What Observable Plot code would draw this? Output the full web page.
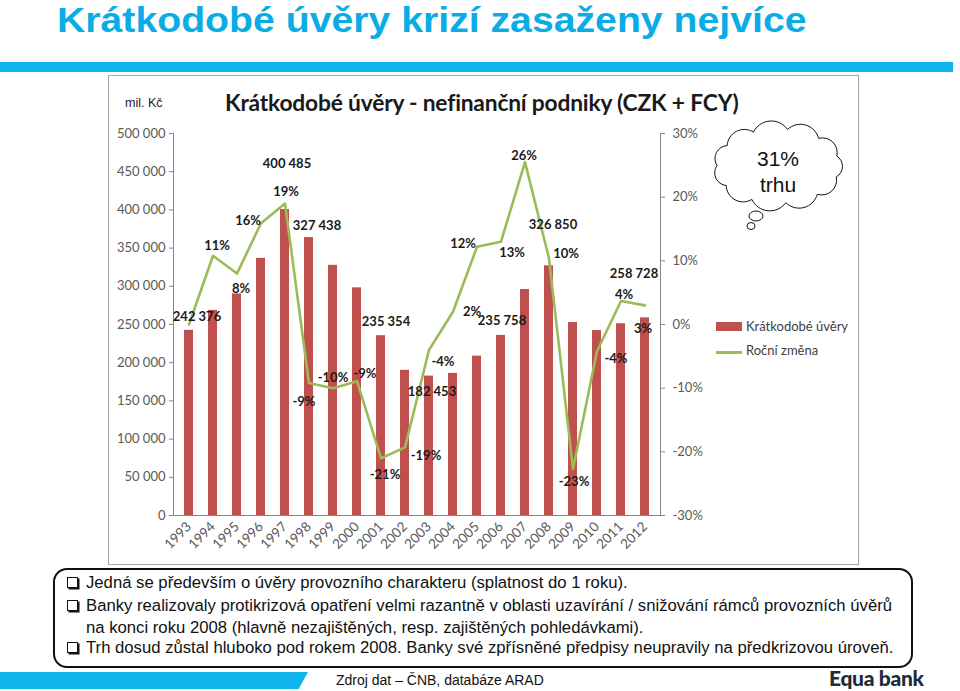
<!DOCTYPE html>
<html>
<head>
<meta charset="utf-8">
<script src="https://cdn.jsdelivr.net/npm/d3@7"></script>
<script src="https://cdn.jsdelivr.net/npm/@observablehq/plot@0.6"></script>
<style>
  html, body { margin: 0; padding: 0; background: #fff; }
  #page { position: relative; width: 960px; height: 691px; overflow: hidden; font-family: Arial, "Liberation Sans", sans-serif; }
  .abs { position: absolute; white-space: nowrap; }
  #title { left: 57px; top: 2px; font-size: 35px; line-height: 36px; font-weight: bold; color: #0AACE6; transform: scaleX(1.12); transform-origin: 0 0; }
  #band1 { left: 0; top: 62px; width: 953px; height: 10px; background: #10B4EC; }
  #band2 { left: 0; top: 672px; width: 308px; height: 17px; background: #10B4EC; clip-path: polygon(0 0, 100% 0, 97% 100%, 0 100%); }
  #chartbox { left: 108px; top: 75px; width: 749px; height: 488px; border: 1px solid #a6a6a6; background: #fff; }
  #plot { left: 108px; top: 75px; }
  #unit { left: 125px; top: 96px; font-size: 12.5px; color: #222; }
  #ctitle { left: 225px; top: 88px; font-family: Lato, sans-serif; font-weight: bold; font-size: 22.8px; color: #1a1a1a; letter-spacing: -0.2px; }
  .leg { font-family: Lato, sans-serif; font-size: 13px; color: #404040; }
  #box { left: 53px; top: 568px; width: 856px; height: 96px; border: 2px solid #111; border-radius: 14px; background: #fff; }
  .line { left: 67px; font-size: 16.7px; line-height: 19px; color: #111; }
  .sq { display: inline-block; width: 9px; height: 9px; border: 1px solid #111; box-shadow: 1.5px 1.5px 0 #111; margin-right: 8px; vertical-align: 0px; }
  #src { left: 336px; top: 672px; font-size: 14px; color: #111; }
  #logo { left: 829px; top: 665px; font-family: Lato, sans-serif; font-weight: 900; font-size: 21px; color: #1d2b3b; letter-spacing: -0.3px; }
</style>
</head>
<body>
<div id="page">
  <div id="title" class="abs">Krátkodobé úvěry krizí zasaženy nejvíce</div>
  <div id="band1" class="abs"></div>
  <div id="chartbox" class="abs"></div>
  <div id="plot" class="abs"></div>
  <div id="unit" class="abs">mil. Kč</div>
  <div id="ctitle" class="abs">Krátkodobé úvěry - nefinanční podniky (CZK + FCY)</div>

  <svg class="abs" style="left:710px;top:120px" width="145" height="118" viewBox="710 120 145 118" id="cloud"></svg>

  <div class="abs" style="left:716px;top:322px;width:26px;height:9px;background:#C0504D"></div>
  <div class="abs leg" style="left:746px;top:318px">Krátkodobé úvěry</div>
  <div class="abs" style="left:716px;top:351px;width:26px;height:2.5px;background:#9BBB59"></div>
  <div class="abs leg" style="left:746px;top:342px">Roční změna</div>

  <div id="box" class="abs"></div>
  <div class="abs line" style="top:573px"><span class="sq"></span>Jedná se především o úvěry provozního charakteru (splatnost do 1 roku).</div>
  <div class="abs line" style="top:596px"><span class="sq"></span>Banky realizovaly protikrizová opatření velmi razantně v oblasti uzavírání / snižování rámců provozních úvěrů</div>
  <div class="abs line" style="top:618px;left:86px">na konci roku 2008 (hlavně nezajištěných, resp. zajištěných pohledávkami).</div>
  <div class="abs line" style="top:638px"><span class="sq"></span>Trh dosud zůstal hluboko pod rokem 2008. Banky své zpřísněné předpisy neupravily na předkrizovou úroveň.</div>

  <div id="band2" class="abs"></div>
  <div id="src" class="abs">Zdroj dat – ČNB, databáze ARAD</div>
  <div id="logo" class="abs">Equa bank</div>
</div>
<script>
// ---- data ----
const years = ["1993","1994","1995","1996","1997","1998","1999","2000","2001","2002",
               "2003","2004","2005","2006","2007","2008","2009","2010","2011","2012"];
const loans = [242376, 268500, 290000, 336500, 400485, 363800, 327438, 298000, 235354, 190000,
               182453, 186000, 208600, 235758, 295800, 326850, 252600, 242100, 251000, 258728];
const yoyChange = [0, 10.8, 8, 15.9, 19, -9.2, -10, -8.9, -21, -19.3,
                   -4, 2, 12.2, 13, 25.5, 10.4, -22.7, -4.2, 3.7, 3.0];
const labelledLoanYears = ["1993","1997","1999","2001","2003","2006","2008","2012"];
const leftTicks = [0, 50000, 100000, 150000, 200000, 250000, 300000, 350000, 400000, 450000, 500000];
const rightTicks = [-30, -20, -10, 0, 10, 20, 30];
const seriesNames = ["Krátkodobé úvěry", "Roční změna"];

// ---- label nudges (layout, px) ----
const loanLabelNudge = {
  "1993": [8, -13], "1997": [2, -46], "1999": [-16, -40], "2001": [5, -14],
  "2003": [3, 16], "2006": [1, -15], "2008": [4, -41], "2012": [-11, -44]
};
const pctLabelNudge = {
  "1994": [4, -10], "1995": [4, 15], "1996": [-13, -2], "1997": [1, -12], "1998": [-5, 19],
  "1999": [0, -10], "2000": [8, -7], "2001": [4, 17], "2002": [21, 8], "2003": [14, 12],
  "2004": [19, 0], "2005": [-14, -3], "2006": [11, 11], "2007": [-1, -6], "2008": [17, -4],
  "2009": [1, 13], "2010": [19, 8], "2011": [3, -6], "2012": [-2, 23]
};

const yMax = 500000;
const pctToY = p => (p + 30) / 60 * yMax;   // secondary axis mapping
const yToPct = v => Math.round(v / yMax * 60 - 30);
const fmtSpace = d => d3.format(",")(d).replace(/,/g, " ");

const data = years.map((year, i) => ({year, value: loans[i], pct: yoyChange[i]}));
const loanLabels = data.filter(d => labelledLoanYears.includes(d.year));
const pctLabels = data.filter((d, i) => i > 0);

const marks = [
  Plot.barY(data, {x: "year", y: "value", fill: "#C0504D"}),
  Plot.ruleY([0], {stroke: "#868686"}),
  Plot.frame({anchor: "left", stroke: "#868686"}),
  Plot.frame({anchor: "right", stroke: "#868686"}),
  Plot.axisY({anchor: "left", ticks: leftTicks, tickFormat: fmtSpace, tickSize: 4, tickPadding: 4, stroke: "#868686", fill: "#595959"}),
  Plot.axisY({anchor: "right", ticks: rightTicks.map(pctToY), tickFormat: d => yToPct(d) + "%", tickSize: 4, tickPadding: 8, stroke: "#868686", fill: "#595959"}),
  Plot.axisX({tickRotate: -45, tickSize: 0, tickPadding: 9, fill: "#595959", fontSize: 13.5}),
  Plot.line(data, {x: "year", y: d => pctToY(d.pct), stroke: "#9BBB59", strokeWidth: 2.6}),
];
for (const d of loanLabels) {
  const [dx, dy] = loanLabelNudge[d.year];
  marks.push(Plot.text([d], {x: "year", y: "value", text: d => fmtSpace(d.value), dx, dy,
    fontWeight: "bold", fill: "#1a1a1a", fontSize: 13}));
}
for (const d of pctLabels) {
  const [dx, dy] = pctLabelNudge[d.year];
  marks.push(Plot.text([d], {x: "year", y: d => pctToY(d.pct), text: d => Math.round(d.pct) + "%", dx, dy,
    fontWeight: "bold", fill: "#1a1a1a", fontSize: 13}));
}

const chart = Plot.plot({
  width: 750, height: 490,
  marginLeft: 65, marginRight: 198, marginTop: 58, marginBottom: 50,
  x: {type: "band", domain: years, paddingInner: 0.62, paddingOuter: 0.31, label: null, axis: null},
  y: {domain: [0, yMax], label: null, axis: null},
  style: {fontFamily: "Lato, sans-serif", fontSize: "13px", background: "transparent", color: "#595959"},
  marks
});
document.getElementById("plot").appendChild(chart);

// ---- cloud callout (decoration) ----
(function () {
  const svg = d3.select("#cloud");
  const cx = 778, cy = 166, rx = 61, ry = 37, n = 11;
  const pts = d3.range(n).map(k => {
    const a = 2 * Math.PI * k / n + 0.3;
    return [cx + rx * Math.cos(a), cy + ry * Math.sin(a)];
  });
  let p = `M${pts[0][0]},${pts[0][1]}`;
  for (let k = 0; k < n; k++) {
    const b = pts[(k + 1) % n];
    const a = pts[k];
    const r = Math.hypot(b[0] - a[0], b[1] - a[1]) * 0.58;
    p += ` A${r},${r} 0 0 1 ${b[0]},${b[1]}`;
  }
  svg.append("path").attr("d", p + "Z").attr("fill", "#fff").attr("stroke", "#111").attr("stroke-width", 1);
  svg.append("ellipse").attr("cx", 756).attr("cy", 216).attr("rx", 7).attr("ry", 5).attr("fill", "#fff").attr("stroke", "#111");
  svg.append("ellipse").attr("cx", 751).attr("cy", 226).attr("rx", 4).attr("ry", 3.5).attr("fill", "#fff").attr("stroke", "#111");
  svg.append("text").attr("x", cx).attr("y", 166).attr("text-anchor", "middle")
    .attr("font-family", "Arial, 'Liberation Sans', sans-serif").attr("font-size", 21).attr("fill", "#111").text("31%");
  svg.append("text").attr("x", cx).attr("y", 192).attr("text-anchor", "middle")
    .attr("font-family", "Arial, 'Liberation Sans', sans-serif").attr("font-size", 21).attr("fill", "#111").text("trhu");
})();
</script>
</body>
</html>
